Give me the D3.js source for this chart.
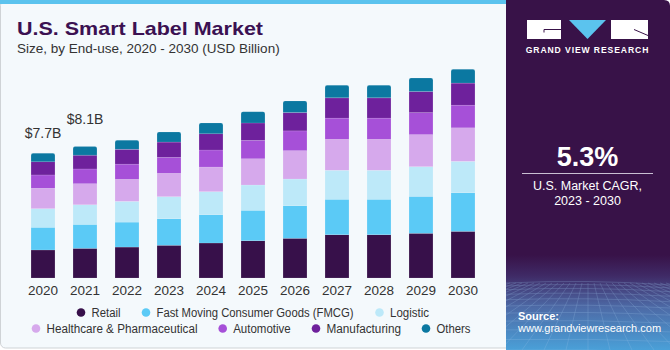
<!DOCTYPE html>
<html>
<head>
<meta charset="utf-8">
<script src="https://cdn.jsdelivr.net/npm/d3@7"></script>
<style>
  body { margin: 0; background: #ffffff; }
  text { font-family: "Liberation Sans", Arial, sans-serif; }
</style>
</head>
<body>
<div id="chart"></div>
<script>
// years and end-use segments (USD Billion)
const years = ["2020","2021","2022","2023","2024","2025","2026","2027","2028","2029","2030"];
const segments = ["Retail","Fast Moving Consumer Goods (FMCG)","Logistic","Healthcare & Pharmaceutical","Automotive","Manufacturing","Others"];
const retail        = [1.73,1.83,1.91,2.02,2.16,2.30,2.45,2.67,2.67,2.76,2.88];
const fmcg          = [1.40,1.48,1.54,1.64,1.75,1.88,2.01,2.19,2.19,2.28,2.38];
const logistic      = [1.15,1.21,1.28,1.36,1.42,1.56,1.65,1.79,1.79,1.83,1.94];
const healthcare    = [1.26,1.30,1.36,1.44,1.52,1.62,1.75,1.91,1.91,1.98,2.07];
const automotive    = [0.82,0.91,0.94,0.99,1.05,1.14,1.22,1.31,1.31,1.36,1.40];
const manufacturing = [0.82,0.85,0.91,0.94,1.01,1.07,1.13,1.25,1.25,1.30,1.36];
const others        = [0.52,0.53,0.57,0.62,0.66,0.70,0.72,0.78,0.78,0.83,0.85];
const valueLabels = [{year: "2020", text: "$7.7B"}, {year: "2021", text: "$8.1B"}];

const colors = ["#37104a","#5bcaf6","#bde9f9","#d6a9ec","#a650d8","#6e219c","#0b78a1"];

const W = 670, H = 350;
const svg = d3.select("#chart").append("svg")
    .attr("width", W).attr("height", H);

const defs = svg.append("defs");

// left panel
svg.append("rect")
    .attr("x", 0.5).attr("y", 0.5).attr("width", 520).attr("height", 347.5)
    .attr("rx", 5)
    .attr("fill", "#f4f9fc").attr("stroke", "#cfd3d6");
svg.append("rect")
    .attr("x", 0).attr("y", 0).attr("width", 510).attr("height", 4)
    .attr("fill", "#5bc3ee");

// title
svg.append("text")
    .attr("x", 17).attr("y", 35)
    .attr("textLength", 246).attr("lengthAdjust", "spacingAndGlyphs")
    .style("font-size", "19px").style("font-weight", "bold")
    .style("fill", "#3b1152")
    .text("U.S. Smart Label Market");
svg.append("text")
    .attr("x", 17).attr("y", 53)
    .style("font-size", "13.5px").style("fill", "#333")
    .text("Size, by End-use, 2020 - 2030 (USD Billion)");

// stack the data
const table = years.map((y, i) => ({
    year: y,
    "Retail": retail[i],
    "Fast Moving Consumer Goods (FMCG)": fmcg[i],
    "Logistic": logistic[i],
    "Healthcare & Pharmaceutical": healthcare[i],
    "Automotive": automotive[i],
    "Manufacturing": manufacturing[i],
    "Others": others[i]
}));
const stacked = d3.stack().keys(segments)(table);

const x = d3.scaleBand()
    .domain(years)
    .range([22, 484])
    .paddingInner(0.43)
    .paddingOuter(0.215);

const y = d3.scaleLinear()
    .domain([0, 13])
    .range([278, 278 - 13 * 16.2]);

const color = d3.scaleOrdinal().domain(segments).range(colors);

const bars = svg.append("g");
stacked.forEach((layer, li) => {
    const g = bars.append("g").attr("fill", color(layer.key));
    if (li < stacked.length - 1) {
        g.selectAll("rect")
            .data(layer)
            .enter()
            .append("rect")
            .attr("x", d => x(d.data.year))
            .attr("y", d => y(d[1]))
            .attr("width", x.bandwidth())
            .attr("height", d => y(d[0]) - y(d[1]))
            .attr("stroke", "rgba(255,255,255,0.25)")
            .attr("stroke-width", 0.5);
    } else {
        // top segment with slightly rounded corners
        g.selectAll("path")
            .data(layer)
            .enter()
            .append("path")
            .attr("d", d => {
                const x0 = x(d.data.year), x1 = x0 + x.bandwidth();
                const t = y(d[1]), b = y(d[0]), r = 2;
                return `M${x0},${b}V${t + r}Q${x0},${t} ${x0 + r},${t}H${x1 - r}Q${x1},${t} ${x1},${t + r}V${b}Z`;
            })
            .attr("stroke", "rgba(255,255,255,0.25)")
            .attr("stroke-width", 0.5);
    }
});

// value labels above first two bars
const totals = {};
table.forEach((d, i) => { totals[d.year] = d3.sum(stacked, s => s[i][1] - s[i][0]); });
const labelOffsets = [15, 23];
svg.append("g").selectAll("text")
    .data(valueLabels)
    .enter()
    .append("text")
    .attr("x", d => x(d.year) + x.bandwidth() / 2)
    .attr("y", (d, i) => y(totals[d.year]) - labelOffsets[i])
    .attr("text-anchor", "middle")
    .style("font-size", "14px").style("fill", "#333")
    .text(d => d.text);

// x axis labels
const xAxis = svg.append("g")
    .attr("transform", "translate(0,278)")
    .call(d3.axisBottom(x).tickSize(0).tickPadding(7));
xAxis.select(".domain").remove();
xAxis.selectAll("text")
    .style("font-family", "'Liberation Sans', Arial, sans-serif")
    .style("font-size", "13.5px").style("fill", "#333");

// legend (dot x, row y, text width)
const legendPos = [
    {x: 81, y: 312.5, w: 29}, {x: 146, y: 312.5, w: 197}, {x: 379.5, y: 312.5, w: 39},
    {x: 36, y: 328.5, w: 151}, {x: 222.7, y: 328.5, w: 57.5}, {x: 316, y: 328.5, w: 74.5}, {x: 426, y: 328.5, w: 34}
];
const legend = svg.append("g");
segments.forEach((s, i) => {
    const p = legendPos[i];
    legend.append("circle")
        .attr("cx", p.x).attr("cy", p.y).attr("r", 4.3)
        .attr("fill", color(s));
    legend.append("text")
        .attr("x", p.x + 10.5).attr("y", p.y + 4.3)
        .attr("textLength", p.w).attr("lengthAdjust", "spacingAndGlyphs")
        .style("font-size", "12.5px").style("fill", "#333")
        .text(s);
});

// right panel
const grad = defs.append("linearGradient").attr("id", "bottomGrad")
    .attr("x1", 0).attr("y1", 0).attr("x2", 0).attr("y2", 1);
grad.append("stop").attr("offset", "0%").attr("stop-color", "#381248");
grad.append("stop").attr("offset", "22%").attr("stop-color", "#3f2a66");
grad.append("stop").attr("offset", "55%").attr("stop-color", "#4d6aa6");
grad.append("stop").attr("offset", "100%").attr("stop-color", "#4aa0d8");

const clip = defs.append("clipPath").attr("id", "panelClip");
clip.append("path")
    .attr("d", "M506,0H664Q670,0 670,6V350H506Z");

const panel = svg.append("g").attr("clip-path", "url(#panelClip)");
panel.append("rect")
    .attr("x", 506).attr("y", 0).attr("width", 164).attr("height", 350)
    .attr("fill", "#381248");
panel.append("rect")
    .attr("x", 506).attr("y", 255).attr("width", 164).attr("height", 95)
    .attr("fill", "url(#bottomGrad)");

// decorative perspective grid in the bottom of the panel
const grid = panel.append("g")
    .attr("stroke", "#9fc4ea").attr("stroke-width", 0.5).attr("opacity", 0.45)
    .attr("fill", "none");
d3.range(0, 14).forEach(k => {
    const yy = 283 + k * k * 0.42 + k * 2.5;
    grid.append("path")
        .attr("d", `M506,${yy}Q588,${yy - 4 + k * 0.3} 670,${yy + 2}`);
});
d3.range(-14, 15).forEach(k => {
    const xt = 588 + k * 6, xb = 588 + k * 22;
    grid.append("line")
        .attr("x1", xt).attr("y1", 283).attr("x2", xb).attr("y2", 350);
});

// logo
const logo = svg.append("g");
logo.append("rect").attr("x", 527).attr("y", 20).attr("width", 34).attr("height", 19).attr("fill", "#fff");
logo.append("path").attr("d", "M544,32.5V29.5H561").attr("stroke", "#381248").attr("stroke-width", 1).attr("fill", "none");
logo.append("path").attr("d", "M569,20H606L587.5,39Z").attr("fill", "#5bc3ee");
logo.append("rect").attr("x", 611).attr("y", 20).attr("width", 37).attr("height", 19).attr("fill", "#fff");
logo.append("path").attr("d", "M634,29.5L648,35.5").attr("stroke", "#381248").attr("stroke-width", 1).attr("fill", "none");
logo.append("text")
    .attr("x", 587.5).attr("y", 52.5).attr("text-anchor", "middle")
    .style("font-size", "8.6px").style("font-weight", "bold")
    .style("letter-spacing", "0.9px").style("fill", "#fff")
    .text("GRAND VIEW RESEARCH");

// CAGR block
svg.append("text")
    .attr("x", 587.5).attr("y", 166).attr("text-anchor", "middle")
    .style("font-size", "27px").style("font-weight", "bold").style("fill", "#fff")
    .text("5.3%");
svg.append("line")
    .attr("x1", 522).attr("x2", 653).attr("y1", 173.5).attr("y2", 173.5)
    .attr("stroke", "#c9bfd3").attr("stroke-width", 1);
svg.append("text")
    .attr("x", 587.5).attr("y", 190).attr("text-anchor", "middle")
    .style("font-size", "12.5px").style("fill", "#fff")
    .text("U.S. Market CAGR,");
svg.append("text")
    .attr("x", 587.5).attr("y", 204.5).attr("text-anchor", "middle")
    .style("font-size", "12.5px").style("fill", "#fff")
    .text("2023 - 2030");

// source
svg.append("text")
    .attr("x", 518).attr("y", 319.5)
    .style("font-size", "11px").style("font-weight", "bold").style("fill", "#fff")
    .text("Source:");
svg.append("text")
    .attr("x", 518).attr("y", 332)
    .style("font-size", "11px").style("fill", "#fff")
    .text("www.grandviewresearch.com");
</script>
</body>
</html>
